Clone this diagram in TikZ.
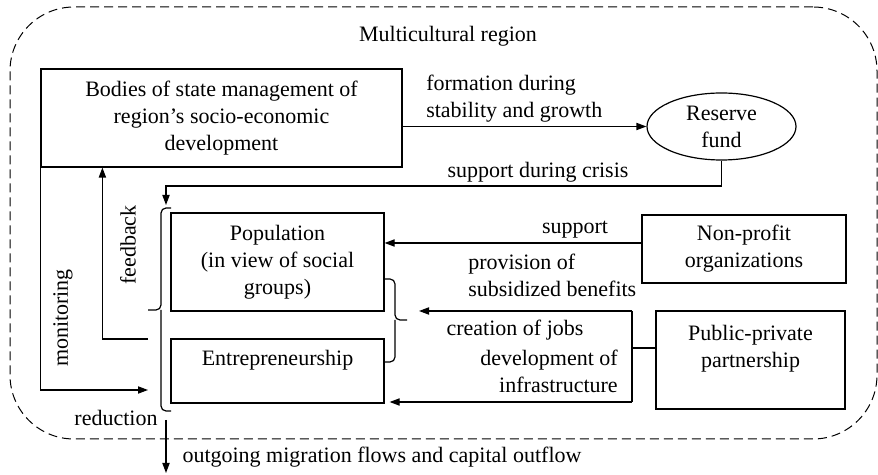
\documentclass[tikz,border=0pt]{standalone}
\usepackage{fontspec}
\setmainfont{Liberation Serif}
\usetikzlibrary{arrows.meta,shapes.geometric}

\begin{document}
\begin{tikzpicture}[x=0.5pt, y=-0.5pt, line width=0.6pt,
    every node/.style={font=\fontsize{11}{13.5}\selectfont},
    box/.style={draw, rectangle, inner sep=0pt, align=center},
    arr/.style={-{Triangle[length=5pt,width=3.6pt]}}]
  \useasboundingbox (0,0) rectangle (878,475);
  % region frame
  \node[draw, line width=0.5pt, dash pattern=on 4.5pt off 2.5pt, rounded corners=32pt,
    minimum width=433.5pt, minimum height=216pt, inner sep=0pt] (region) at (443.5,223) {};
  \node (title) at (448,36) {Multicultural region};
  % boxes
  \node[box, minimum width=180.5pt, minimum height=49pt] (bodies) at (221.5,118)
    {Bodies of state management of\\region's socio-economic\\development};
  \node[draw, ellipse, inner sep=0pt, minimum width=74.5pt, minimum height=33.5pt, align=center] (fund) at (721.5,126.5)
    {Reserve\\fund};
  \node[box, minimum width=106.5pt, minimum height=49pt] (pop) at (277.5,262)
    {Population\\(in view of social\\groups)};
  \node[box, minimum width=106.5pt, minimum height=32pt] (entr) at (277.5,371)
    {Entrepreneurship\\\mbox{}};
  \node[box, minimum width=102pt, minimum height=34pt] (nonprofit) at (744,249)
    {Non-profit\\organizations};
  \node[box, minimum width=94.5pt, minimum height=49pt] (ppp) at (750.5,360)
    {Public-private\\partnership\\\mbox{}};
  % braces
  \coordinate (lbtip) at (148,310);
  \coordinate (rbtip) at (407,320);
  \draw[rounded corners=2.5pt] (171,208) -| (161,310) -- (lbtip);
  \draw[rounded corners=2.5pt] (171,411) -| (161,310);
  \draw[rounded corners=2.5pt] (385,279) -| (395,320) -- (rbtip);
  \draw[rounded corners=2.5pt] (385,362) -| (395,320);
  \coordinate (lbtop) at (166,205);
  \coordinate (lbbot) at (166,420);
  % connectors
  \draw[arr] (bodies.east |- fund.west) -- (fund.west);
  \node[anchor=west, align=left] (formation) at (419,99) {formation during\\stability and growth};
  \draw[arr] (fund.south) -- (fund.south |- 0,186) -| (lbtop);
  \node (crisis) at (538,172) {support during crisis};
  \draw[arr] ([yshift=3pt]nonprofit.west) -- ([yshift=3pt]nonprofit.west -| pop.east);
  \node (support) at (575,230) {support};
  \node[anchor=west, align=left] (provision) at (461,275) {provision of\\subsidized benefits};
  \coordinate (jobsne) at (632,311);
  \coordinate (jobsse) at (632,402);
  \draw[arr] (jobsne) -- ([xshift=6pt]rbtip |- jobsne);
  \draw (jobsne) -- (jobsse);
  \draw[arr] (jobsse) -- ([xshift=2.5pt]entr.east |- jobsse);
  \draw ([yshift=6pt]ppp.west) -- ([yshift=6pt]ppp.west -| jobsne);
  \node (jobs) at (515,330) {creation of jobs};
  \node[anchor=east, align=right] (infra) at (625,371) {development of\\infrastructure};
  % feedback and monitoring
  \coordinate (fb) at (148,339);
  \coordinate (mon) at (148,390);
  \draw[arr] (fb) -| ([xshift=31pt]bodies.south west);
  \node[rotate=90] (feedback) at (128,245) {feedback};
  \draw[arr] (bodies.south west) |- (mon);
  \node[rotate=90] (monitoring) at (63,318) {monitoring};
  % outflow
  \draw[arr] (lbbot) -- (166,473);
  \node (reduction) at (116,418) {reduction};
  \node (outflow) at (382,457) {outgoing migration flows and capital outflow};
\end{tikzpicture}
\end{document}
